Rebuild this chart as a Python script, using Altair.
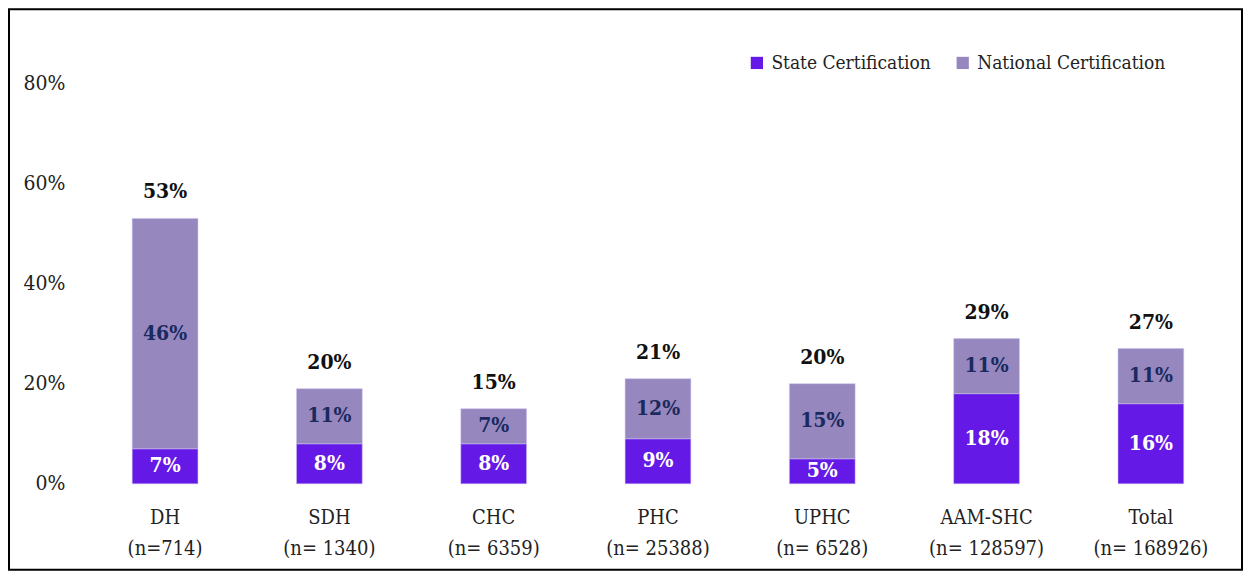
import altair as alt
import pandas as pd

categories = ["DH", "SDH", "CHC", "PHC", "UPHC", "AAM-SHC", "Total"]
n_labels = ["(n=714)", "(n= 1340)", "(n= 6359)", "(n= 25388)", "(n= 6528)", "(n= 128597)", "(n= 168926)"]
state = [7, 8, 8, 9, 5, 18, 16]
national = [46, 11, 7, 12, 15, 11, 11]
total_labels = [53, 20, 15, 21, 20, 29, 27]
series = ["State Certification", "National Certification"]
colors = ["#6419E6", "#9787BF"]

FONT = "DejaVu Serif Condensed"

rows = []
tot_rows = []
for i, c in enumerate(categories):
    key = c + "|" + n_labels[i]
    s, n = state[i], national[i]
    rows.append({"cat": key, "series": series[0], "start": 0, "end": s, "mid": s / 2,
                 "label": f"{s}%", "order": 0})
    rows.append({"cat": key, "series": series[1], "start": s, "end": s + n, "mid": s + n / 2,
                 "label": f"{n}%", "order": 1})
    tot_rows.append({"cat": key, "top": s + n, "label": f"{total_labels[i]}%"})

df = pd.DataFrame(rows)
dtot = pd.DataFrame(tot_rows)
cat_order = [c + "|" + n_labels[i] for i, c in enumerate(categories)]

W, H = 1151, 401

x = alt.X("cat:N", sort=cat_order, title=None,
          scale=alt.Scale(paddingInner=0.6, paddingOuter=0.3),
          axis=alt.Axis(labelExpr="split(datum.label, '|')", labelAngle=0, domain=False,
                        ticks=False, labelPadding=24, labelLineHeight=31,
                        labelFont=FONT, labelFontSize=20, labelColor="#222222"))
y_scale = alt.Scale(domain=[0, 80], nice=False)

bars = alt.Chart(df).mark_bar(stroke="#c9bff0", strokeWidth=0.5).encode(
    x=x,
    y=alt.Y("end:Q", scale=y_scale, title=None,
            axis=alt.Axis(values=[0, 20, 40, 60, 80], labelExpr="datum.value + '%'",
                          domain=False, ticks=False, grid=False, labelPadding=18,
                          labelFont=FONT, labelFontSize=21, labelColor="#222222")),
    y2="start:Q",
    color=alt.Color("series:N", scale=alt.Scale(domain=series, range=colors),
                    legend=alt.Legend(title=None, orient="none", direction="horizontal",
                                      legendX=665, legendY=-30, symbolType="square",
                                      symbolSize=150, symbolStrokeWidth=0,
                                      labelFont=FONT, labelFontSize=19, labelColor="#222222",
                                      labelLimit=0, columnPadding=22, labelOffset=5)),
)

inner = alt.Chart(df).mark_text(font=FONT, fontSize=21, fontWeight="bold", baseline="middle").encode(
    x=alt.X("cat:N", sort=cat_order),
    y=alt.Y("mid:Q", scale=y_scale),
    text="label:N",
    color=alt.Color("series:N", scale=alt.Scale(domain=series, range=["#ffffff", "#1a2a5e"]), legend=None),
)

tops = alt.Chart(dtot).mark_text(font=FONT, fontSize=21, fontWeight="bold", baseline="alphabetic",
                                 dy=-20, color="#111111").encode(
    x=alt.X("cat:N", sort=cat_order),
    y=alt.Y("top:Q", scale=y_scale),
    text="label:N",
)

frame = alt.Chart(alt.Data(values=[{}])).mark_rect(filled=False, stroke="#000000", strokeWidth=2).encode(
    x=alt.value(-74), x2=alt.value(W + 9), y=alt.value(-74), y2=alt.value(H + 86)
)

chart = alt.layer(bars, inner, tops, frame).resolve_scale(color="independent").properties(
    width=W, height=H,
    autosize=alt.AutoSizeParams(type="none"),
    padding={"left": 75, "top": 75, "right": 10, "bottom": 88},
).configure_view(strokeWidth=0)

chart.save("out.html", embed_options={"renderer": "svg", "actions": False})
